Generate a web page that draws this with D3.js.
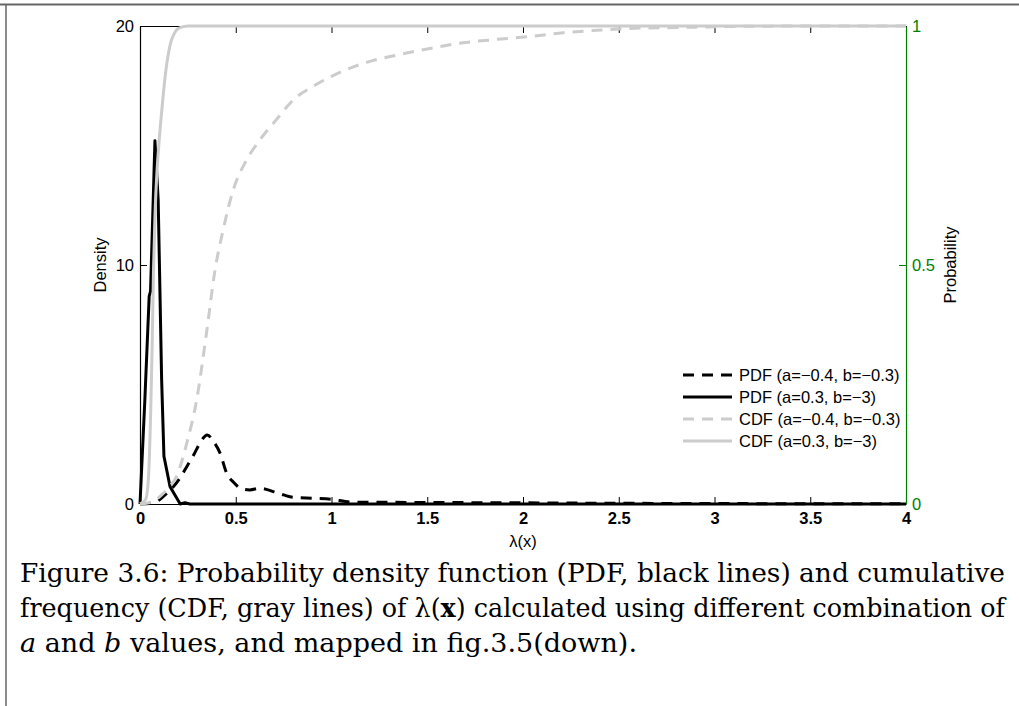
<!DOCTYPE html>
<html>
<head>
<meta charset="utf-8">
<script src="https://cdn.jsdelivr.net/npm/d3@7"></script>
<style>
  body { margin: 0; background: #fff; }
  svg { display: block; }
</style>
</head>
<body>
<div id="chart"></div>
<script>
// data
const xTicks = [0, 0.5, 1, 1.5, 2, 2.5, 3, 3.5, 4];
const xTickLabels = ["0", "0.5", "1", "1.5", "2", "2.5", "3", "3.5", "4"];
const densityTicks = [0, 10, 20];
const probTicks = [0, 0.5, 1];
const probTickLabels = ["0", "0.5", "1"];

// PDF (a=-0.4, b=-0.3) dashed black
const pdfAx = [0, 0.05, 0.1, 0.14, 0.174, 0.21, 0.244, 0.28, 0.313, 0.351, 0.385, 0.418, 0.453, 0.49, 0.522, 0.574, 0.627, 0.696, 0.75, 0.8, 0.905, 1.0, 1.1, 1.3, 1.6, 2.0, 2.5, 3.0, 3.5, 4.0];
const pdfAy = [0, 0.02, 0.17, 0.45, 0.72, 1.1, 1.56, 2.05, 2.55, 2.89, 2.6, 2.13, 1.28, 0.9, 0.67, 0.59, 0.66, 0.52, 0.38, 0.28, 0.24, 0.2, 0.08, 0.07, 0.06, 0.05, 0.03, 0.02, 0.01, 0.01];

// PDF (a=0.3, b=-3) solid black
const pdfBx = [0, 0.025, 0.048, 0.055, 0.078, 0.095, 0.113, 0.125, 0.157, 0.21, 0.235, 0.26, 0.3, 4];
const pdfBy = [0, 4.3, 8.7, 8.9, 15.2, 12.7, 5.2, 2.0, 0.72, 0.0, 0.05, 0, 0, 0];

// CDF (a=-0.4, b=-0.3) dashed gray
const cdfAx = [0, 0.06, 0.113, 0.15, 0.19, 0.244, 0.296, 0.348, 0.392, 0.435, 0.487, 0.557, 0.627, 0.714, 0.8, 0.922, 1.044, 1.184, 1.34, 1.514, 1.688, 1.863, 2.037, 2.21, 2.385, 2.56, 2.82, 3.1, 3.5, 4.0];
const cdfAy = [0, 0.004, 0.019, 0.035, 0.057, 0.127, 0.218, 0.36, 0.49, 0.575, 0.657, 0.72, 0.762, 0.805, 0.845, 0.878, 0.903, 0.924, 0.939, 0.953, 0.965, 0.972, 0.978, 0.986, 0.991, 0.995, 0.997, 0.999, 1, 1];

// CDF (a=0.3, b=-3) solid gray
const cdfBx = [0, 0.03, 0.045, 0.055, 0.063, 0.07, 0.078, 0.088, 0.1, 0.113, 0.13, 0.157, 0.18, 0.2, 0.25, 4];
const cdfBy = [0, 0.01, 0.06, 0.18, 0.32, 0.48, 0.6, 0.69, 0.76, 0.82, 0.89, 0.96, 0.985, 0.995, 1, 1];

const legendLabels = ["PDF (a=\u22120.4, b=\u22120.3)", "PDF (a=0.3, b=\u22123)", "CDF (a=\u22120.4, b=\u22120.3)", "CDF (a=0.3, b=\u22123)"];

const W = 1019, H = 706;
const plot = {left: 140, right: 906, top: 26, bottom: 504};
const green = "#008000";
const gray = "#cccccc";
const sans = "'Liberation Sans', Arial, sans-serif";
const fs = "16.5px";

const svg = d3.select("#chart").append("svg")
    .attr("width", W)
    .attr("height", H);

// page frame (top and left rule)
svg.append("line").attr("x1", 0).attr("x2", W).attr("y1", 4.5).attr("y2", 4.5)
    .attr("stroke", "#666").attr("stroke-width", 2);
svg.append("line").attr("x1", 6).attr("x2", 6).attr("y1", 4).attr("y2", H)
    .attr("stroke", "#666").attr("stroke-width", 1.5);

const x = d3.scaleLinear().domain([0, 4]).range([plot.left, plot.right]);
const yL = d3.scaleLinear().domain([0, 20]).range([plot.bottom, plot.top]);
const yR = d3.scaleLinear().domain([0, 1]).range([plot.bottom, plot.top]);

function styleAxis(g, color, weight) {
    g.select(".domain").attr("stroke", color).attr("stroke-width", 1.2);
    g.selectAll(".tick line").attr("stroke", color).attr("stroke-width", 1);
    g.selectAll(".tick text")
        .attr("fill", color)
        .style("font-family", sans)
        .style("font-size", fs)
        .style("font-weight", weight);
}

// bottom axis
const gx = svg.append("g")
    .attr("transform", `translate(0,${plot.bottom})`)
    .call(d3.axisBottom(x).tickValues(xTicks)
        .tickFormat((d, i) => xTickLabels[i])
        .tickSizeInner(-7).tickSizeOuter(0).tickPadding(8));
styleAxis(gx, "#000", "bold");

// top axis (box)
const gxt = svg.append("g")
    .attr("transform", `translate(0,${plot.top})`)
    .call(d3.axisTop(x).tickValues(xTicks).tickFormat("")
        .tickSizeInner(-7).tickSizeOuter(0));
styleAxis(gxt, "#000", "normal");

// left axis
const gyl = svg.append("g")
    .attr("transform", `translate(${plot.left},0)`)
    .call(d3.axisLeft(yL).tickValues(densityTicks)
        .tickSizeInner(-7).tickSizeOuter(0).tickPadding(6));
styleAxis(gyl, "#000", "normal");

// right axis
const gyr = svg.append("g")
    .attr("transform", `translate(${plot.right},0)`)
    .call(d3.axisRight(yR).tickValues(probTicks)
        .tickFormat((d, i) => probTickLabels[i])
        .tickSizeInner(-7).tickSizeOuter(0).tickPadding(6));
styleAxis(gyr, green, "normal");

// axis titles
svg.append("text")
    .attr("x", (plot.left + plot.right) / 2)
    .attr("y", 547)
    .attr("text-anchor", "middle")
    .style("font-family", sans)
    .style("font-size", fs)
    .text("\u03bb(x)");

svg.append("text")
    .attr("transform", `translate(106,${(plot.top + plot.bottom) / 2}) rotate(-90)`)
    .attr("text-anchor", "middle")
    .style("font-family", sans)
    .style("font-size", fs)
    .text("Density");

svg.append("text")
    .attr("transform", `translate(956,${(plot.top + plot.bottom) / 2}) rotate(-90)`)
    .attr("text-anchor", "middle")
    .style("font-family", sans)
    .style("font-size", fs)
    .text("Probability");

// series
const series = [
    {xs: pdfAx, ys: pdfAy, y: yL, color: "#000", dash: "11,8", curve: d3.curveMonotoneX},
    {xs: pdfBx, ys: pdfBy, y: yL, color: "#000", dash: null, curve: d3.curveLinear},
    {xs: cdfAx, ys: cdfAy, y: yR, color: gray, dash: "11,8", curve: d3.curveMonotoneX},
    {xs: cdfBx, ys: cdfBy, y: yR, color: gray, dash: null, curve: d3.curveMonotoneX}
];

series.forEach(function (s) {
    const pts = s.xs.map((v, i) => [v, s.ys[i]]);
    const line = d3.line()
        .x(d => x(d[0]))
        .y(d => s.y(d[1]))
        .curve(s.curve);
    svg.append("path")
        .datum(pts)
        .attr("d", line)
        .attr("fill", "none")
        .attr("stroke", s.color)
        .attr("stroke-width", 3)
        .attr("stroke-linejoin", "round")
        .attr("stroke-dasharray", s.dash);
});

// legend
const legend = svg.append("g").attr("transform", "translate(683,375)");
legendLabels.forEach(function (lab, i) {
    const s = series[i];
    legend.append("line")
        .attr("x1", 0).attr("x2", 49)
        .attr("y1", i * 22).attr("y2", i * 22)
        .attr("stroke", s.color)
        .attr("stroke-width", 3)
        .attr("stroke-dasharray", s.dash ? "11,8" : null);
    legend.append("text")
        .attr("x", 56)
        .attr("y", i * 22)
        .attr("dy", "0.35em")
        .style("font-family", sans)
        .style("font-size", fs)
        .text(lab);
});

// caption
const capFont = "'DejaVu Serif', 'Liberation Serif', serif";
const capSize = "25.5px";
const cap1 = svg.append("text")
    .attr("x", 20).attr("y", 582)
    .attr("textLength", 985).attr("lengthAdjust", "spacingAndGlyphs")
    .style("font-family", capFont).style("font-size", capSize)
    .text("Figure 3.6:  Probability density function (PDF, black lines) and cumulative");

const cap2 = svg.append("text")
    .attr("x", 20).attr("y", 617)
    .attr("textLength", 985).attr("lengthAdjust", "spacingAndGlyphs")
    .style("font-family", capFont).style("font-size", capSize);
cap2.append("tspan").text("frequency (CDF, gray lines) of \u03bb(");
cap2.append("tspan").style("font-weight", "bold").text("x");
cap2.append("tspan").text(") calculated using different combination of");

const cap3 = svg.append("text")
    .attr("x", 20).attr("y", 652)
    .attr("textLength", 617).attr("lengthAdjust", "spacingAndGlyphs")
    .style("font-family", capFont).style("font-size", capSize);
cap3.append("tspan").style("font-style", "italic").text("a");
cap3.append("tspan").text(" and ");
cap3.append("tspan").style("font-style", "italic").text("b");
cap3.append("tspan").text(" values, and mapped in fig.3.5(down).");
</script>
</body>
</html>
